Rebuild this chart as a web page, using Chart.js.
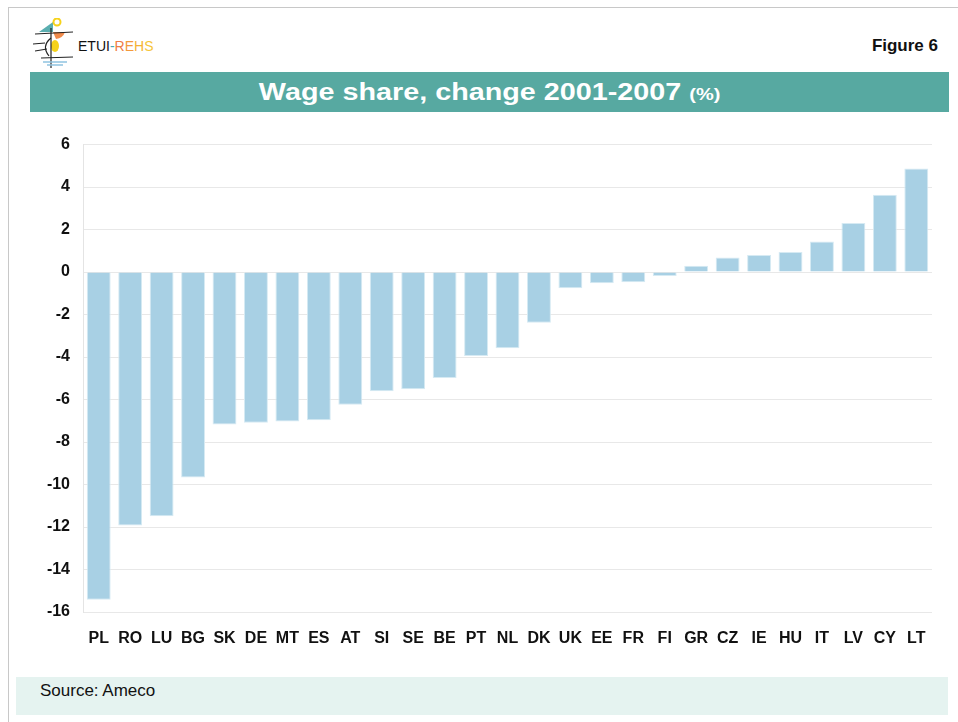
<!DOCTYPE html>
<html>
<head>
<meta charset="utf-8">
<script src="https://cdn.jsdelivr.net/npm/chart.js@4/dist/chart.umd.min.js"></script>
<style>
  html, body { margin: 0; padding: 0; background: #fff; }
  body { width: 958px; height: 722px; position: relative; overflow: hidden; font-family: "Liberation Sans", Arial, sans-serif; }
  .frame { position: absolute; left: 8px; top: 7px; width: 960px; height: 730px; border-top: 1px solid #c8c8c8; border-left: 1px solid #c8c8c8; }
  .logo { position: absolute; left: 33px; top: 18px; }
  .logo-text { position: absolute; left: 78px; top: 38px; font-size: 14px; color: #111; }
  .fig { position: absolute; right: 20px; top: 36px; font-size: 17px; font-weight: bold; color: #111; }
  .band { position: absolute; left: 30px; top: 72px; width: 919px; height: 40px; background: #57a9a1; color: #fff; text-align: center; font-weight: bold; line-height: 40px; }
  .band span { display: inline-block; font-size: 23px; transform: scaleX(1.25); transform-origin: center; }
  .band small { font-size: 16px; }
  .source { position: absolute; left: 16px; top: 677px; width: 932px; height: 38px; background: #e5f3f0; font-size: 17px; color: #111; line-height: 27px; padding-left: 24px; box-sizing: border-box; }
  #wrap { position: absolute; left: 30px; top: 122px; width: 920px; height: 538px; }
</style>
</head>
<body>
<div class="frame"></div>
<svg class="logo" width="46" height="50" viewBox="0 0 46 50">
  <polygon points="6,14 20,4 20,14" fill="#5aaeb0"/>
  <path d="M20,14 L32,14 Q30,20 23,21 Z" fill="#f08a4b"/>
  <circle cx="24" cy="4" r="3.5" fill="none" stroke="#f6d21a" stroke-width="2"/>
  <ellipse cx="22" cy="28" rx="4" ry="6" fill="#f6d21a"/>
  <path d="M18,20 Q8,28 16,38" fill="none" stroke="#222" stroke-width="1.2"/>
  <line x1="18" y1="10" x2="18" y2="50" stroke="#222" stroke-width="1.2"/>
  <line x1="2" y1="16" x2="40" y2="14" stroke="#222" stroke-width="1"/>
  <line x1="0" y1="26" x2="12" y2="25" stroke="#222" stroke-width="1"/>
  <line x1="2" y1="33" x2="14" y2="31" stroke="#222" stroke-width="1"/>
  <line x1="8" y1="40" x2="40" y2="39" stroke="#222" stroke-width="1"/>
  <line x1="10" y1="44" x2="34" y2="44" stroke="#8fc3e0" stroke-width="1.5"/>
  <line x1="14" y1="47" x2="30" y2="47" stroke="#8fc3e0" stroke-width="1.5"/>
</svg>
<div class="logo-text">ETUI<span style="color:#4aa7b5">-</span><span style="color:#ef7c45">R</span><span style="color:#f39a3c">E</span><span style="color:#f5b335">H</span><span style="color:#f6c53a">S</span></div>
<div class="fig">Figure 6</div>
<div class="band"><span>Wage share, change 2001-2007 <small>(%)</small></span></div>
<div id="wrap"><canvas id="chart"></canvas></div>
<div class="source">Source: Ameco</div>
<script>
const countries = ['PL', 'RO', 'LU', 'BG', 'SK', 'DE', 'MT', 'ES', 'AT', 'SI', 'SE', 'BE', 'PT', 'NL', 'DK', 'UK', 'EE', 'FR', 'FI', 'GR', 'CZ', 'IE', 'HU', 'IT', 'LV', 'CY', 'LT'];
const wageShareChange = [-15.42, -11.93, -11.49, -9.67, -7.18, -7.09, -7.03, -6.98, -6.25, -5.61, -5.51, -4.98, -3.95, -3.59, -2.39, -0.76, -0.53, -0.48, -0.18, 0.3, 0.69, 0.8, 0.95, 1.44, 2.31, 3.64, 4.87];
const yTicks = [6, 4, 2, 0, -2, -4, -6, -8, -10, -12, -14, -16];

new Chart(document.getElementById('chart'), {
  type: 'bar',
  data: {
    labels: countries,
    datasets: [{
      data: wageShareChange,
      backgroundColor: '#a8d0e4',
      borderColor: '#d6eaf3',
      borderWidth: 1,
      barPercentage: 0.76,
      categoryPercentage: 1
    }]
  },
  options: {
    responsive: true,
    maintainAspectRatio: false,
    animation: false,
    layout: { padding: { top: 6, right: 18, bottom: 0, left: 0 } },
    plugins: { legend: { display: false }, tooltip: { enabled: false } },
    scales: {
      x: {
        grid: { display: false, drawTicks: false },
        border: { display: false },
        ticks: {
          color: '#111',
          padding: 17,
          maxRotation: 0,
          autoSkip: false,
          font: { family: '"Liberation Sans", Arial', size: 16, weight: 'bold' }
        },
        afterFit: s => { s.height = 48; }
      },
      y: {
        min: -16,
        max: 6,
        afterBuildTicks: s => { s.ticks = yTicks.map(v => ({ value: v })); },
        grid: { color: '#e8e8e8', lineWidth: 1, drawTicks: false },
        border: { color: '#e4e4e4' },
        ticks: {
          color: '#111',
          padding: 13,
          font: { family: '"Liberation Sans", Arial', size: 16, weight: 'bold' }
        },
        afterFit: s => { s.width = 53; }
      }
    }
  }
});
</script>
</body>
</html>
